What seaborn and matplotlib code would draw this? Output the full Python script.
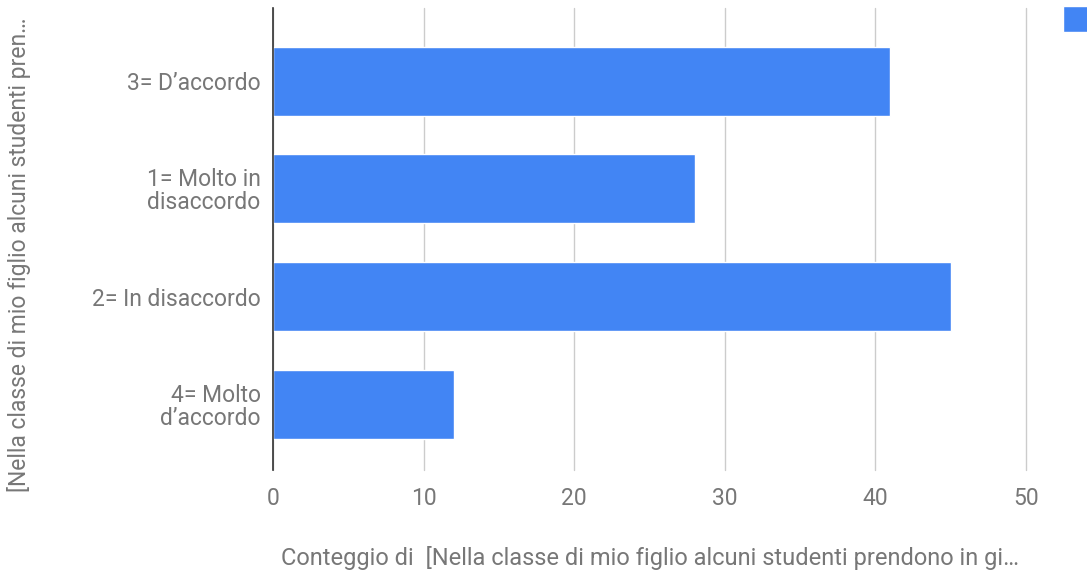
import matplotlib
matplotlib.use('Agg')
import matplotlib.pyplot as plt
import seaborn as sns
import pandas as pd

categories = ['3= D\u2019accordo', '1= Molto in\ndisaccordo', '2= In disaccordo', '4= Molto\nd\u2019accordo']
counts = [41, 28, 45, 12]
x_ticks = [0, 10, 20, 30, 40, 50]

df = pd.DataFrame({'risposta': categories, 'conteggio': counts})

sns.set_theme(style='white')
plt.rcParams['font.family'] = ['Roboto', 'DejaVu Sans']

grey = '#777777'
blue = '#4285F4'
fs = 16.5

fig = plt.figure(figsize=(10.87, 5.74), dpi=100)
ax = fig.add_axes([0.2512, 0.1812, 0.6927, 0.8048])

sns.barplot(df, x='conteggio', y='risposta', color=blue, width=0.64,
            saturation=1, ax=ax, label=' ', zorder=3)

ax.set_xlim(0, 50)
ax.set_ylim(3.61, -0.68)
ax.set_xticks(x_ticks)
ax.grid(axis='x', color='#cccccc', linewidth=1, zorder=0)
ax.grid(axis='y', visible=False)
for gl in ax.get_xgridlines():
    gl.set_clip_on(False)
for s in ['top', 'right', 'bottom']:
    ax.spines[s].set_visible(False)
ax.spines['left'].set_color('#333333')
ax.spines['left'].set_linewidth(1.2)
ax.spines['left'].set_zorder(4)
ax.tick_params(axis='both', length=0, labelsize=fs, labelcolor=grey)
ax.tick_params(axis='x', pad=12)
ax.tick_params(axis='y', pad=9)
for t in ax.get_yticklabels():
    t.set_horizontalalignment('right')
    t.set_multialignment('right')
    t.set_linespacing(1.0)

ax.set_xlabel('Conteggio di  [Nella classe di mio figlio alcuni studenti prendono in gi\u2026',
              fontsize=17, color=grey, labelpad=26)
ax.set_ylabel('[Nella classe di mio figlio alcuni studenti pren\u2026',
              fontsize=fs, color=grey)
ax.yaxis.set_label_coords(-0.322, 0.465)

leg = ax.legend(loc='upper left', bbox_to_anchor=(1063 / 1087, 1 - 6 / 574),
                bbox_transform=fig.transFigure, frameon=False,
                handlelength=1.4, handleheight=1.4, borderpad=0, borderaxespad=0,
                fontsize=fs)

fig.savefig('out.png', dpi=100)
